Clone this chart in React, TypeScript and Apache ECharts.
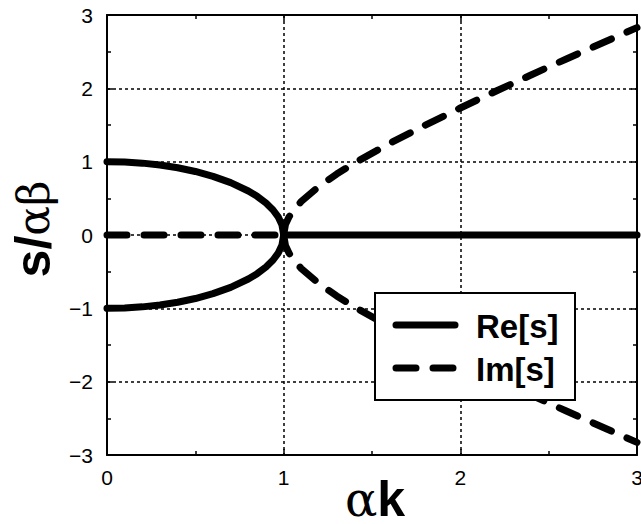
import React, { useEffect, useRef } from "react";
import * as echarts from "echarts";

const kReBranch = [0, 0.1, 0.2, 0.3, 0.4, 0.5, 0.6, 0.7, 0.8, 0.85, 0.9, 0.94, 0.97, 0.99, 1.0];
const reUpper = [1, 0.995, 0.98, 0.954, 0.917, 0.866, 0.8, 0.714, 0.6, 0.527, 0.436, 0.341, 0.243, 0.141, 0];
const reLower = [-1, -0.995, -0.98, -0.954, -0.917, -0.866, -0.8, -0.714, -0.6, -0.527, -0.436, -0.341, -0.243, -0.141, 0];
const kReZero = [1, 3];
const reZero = [0, 0];
const kImZero = [0, 1];
const imZero = [0, 0];
const kImBranch = [1, 1.01, 1.03, 1.06, 1.1, 1.2, 1.3, 1.4, 1.6, 1.8, 2.0, 2.2, 2.4, 2.6, 2.8, 3.0];
const imUpper = [0, 0.142, 0.246, 0.352, 0.458, 0.663, 0.831, 0.98, 1.249, 1.497, 1.732, 1.96, 2.182, 2.4, 2.615, 2.828];
const imLower = [0, -0.142, -0.246, -0.352, -0.458, -0.663, -0.831, -0.98, -1.249, -1.497, -1.732, -1.96, -2.182, -2.4, -2.615, -2.828];
const legendNames = ["Re[s]", "Im[s]"];
const xTitle = "{a|α}{b|k}";
const yTitle = "{b|s/}{a|αβ}";

const pairs = (xs: number[], ys: number[]) => xs.map((x, i) => [x, ys[i]]);

const SANS = "Liberation Sans";
const SERIF = "DejaVu Serif";
const DASH = [20, 17];

export default function App() {
  const ref = useRef<HTMLDivElement>(null);
  useEffect(() => {
    document.body.style.margin = "0";
    const chart = echarts.init(ref.current!, null, { renderer: "svg" });
    const solid = { color: "#000", width: 7, type: "solid" as const, cap: "round" as const, join: "round" as const };
    const dashed = { color: "#000", width: 7, type: DASH as any, cap: "round" as const, join: "round" as const };
    const mkSeries = (name: string, data: number[][], ls: any) => ({
      name,
      type: "line",
      data,
      symbol: "none",
      showSymbol: false,
      lineStyle: ls,
      itemStyle: { color: "#000" },
      clip: false,
      z: 3,
    });
    const gridLine = { show: true, lineStyle: { color: "#000", width: 1.5, type: [3, 3] as any } };
    const axisLine = { show: true, onZero: false, lineStyle: { color: "#000", width: 2 } };
    const tick = { show: true, inside: true, length: 6, lineStyle: { color: "#000", width: 1.5 } };
    const minor = { show: true, splitNumber: 2, length: 4, lineStyle: { color: "#000", width: 1.5 } };
    const legendText = { fill: "#000", fontFamily: SANS, fontWeight: "bold", fontSize: 33 };
    const titleRich = (aSize: number, bSize: number) => ({
      a: { fontFamily: SERIF, fontSize: aSize, fill: "#000", color: "#000", lineHeight: bSize },
      b: { fontFamily: SANS, fontSize: bSize, fontWeight: "bold", fill: "#000", color: "#000", lineHeight: bSize },
    });
    chart.setOption({
      animation: false,
      backgroundColor: "#fff",
      textStyle: { fontFamily: SANS, fontSize: 21, color: "#000" },
      grid: { left: 107, right: 4, top: 15, bottom: 69, containLabel: false, outerBoundsMode: "none" },
      graphic: {
        elements: [
          { type: "rect", z: 100, shape: { x: 375, y: 293, width: 200, height: 107 }, style: { fill: "#fff", stroke: "#000", lineWidth: 2 } },
          { type: "line", z: 101, shape: { x1: 396, y1: 325, x2: 455, y2: 325 }, style: { stroke: "#000", lineWidth: 7, lineCap: "round" } },
          { type: "line", z: 101, shape: { x1: 396, y1: 368, x2: 455, y2: 368 }, style: { stroke: "#000", lineWidth: 7, lineCap: "round", lineDash: DASH } },
          { type: "text", z: 101, x: 476, y: 326, style: { ...legendText, text: legendNames[0], verticalAlign: "middle" } },
          { type: "text", z: 101, x: 476, y: 369, style: { ...legendText, text: legendNames[1], verticalAlign: "middle" } },
          { type: "text", z: 101, x: 375, y: 499, style: { text: xTitle, rich: titleRich(48, 50), align: "center", verticalAlign: "middle" } },
          { type: "text", z: 101, x: 33, y: 229, rotation: Math.PI / 2, style: { text: yTitle, rich: titleRich(44, 50), align: "center", verticalAlign: "middle" } },
        ],
      },
      xAxis: [
        {
          type: "value",
          min: 0,
          max: 3,
          interval: 1,
          position: "bottom",
          axisLine,
          axisTick: tick,
          minorTick: minor,
          splitLine: gridLine,
          axisLabel: { color: "#000", fontFamily: SANS, fontSize: 21, margin: 12 },
        },
        {
          type: "value",
          min: 0,
          max: 3,
          interval: 1,
          position: "top",
          axisLine,
          axisTick: tick,
          minorTick: minor,
          splitLine: { show: false },
          axisLabel: { show: false },
        },
      ],
      yAxis: [
        {
          type: "value",
          min: -3,
          max: 3,
          interval: 1,
          position: "left",
          axisLine,
          axisTick: tick,
          minorTick: minor,
          splitLine: gridLine,
          axisLabel: {
            color: "#000",
            fontFamily: SANS,
            fontSize: 21,
            margin: 14,
            formatter: (v: number) => (v < 0 ? "\u2212" + Math.abs(v) : String(v)),
          },
        },
        {
          type: "value",
          min: -3,
          max: 3,
          interval: 1,
          position: "right",
          axisLine,
          axisTick: tick,
          minorTick: minor,
          splitLine: { show: false },
          axisLabel: { show: false },
        },
      ],
      series: [
        mkSeries(legendNames[0], pairs(kReBranch, reUpper), solid),
        mkSeries(legendNames[0], pairs(kReBranch, reLower), solid),
        mkSeries(legendNames[0], pairs(kReZero, reZero), solid),
        mkSeries(legendNames[1], pairs(kImZero, imZero), dashed),
        mkSeries(legendNames[1], pairs(kImBranch, imUpper), dashed),
        mkSeries(legendNames[1], pairs(kImBranch, imLower), dashed),
      ],
    });
    return () => chart.dispose();
  }, []);
  return <div ref={ref} style={{ width: 641, height: 524 }} />;
}
